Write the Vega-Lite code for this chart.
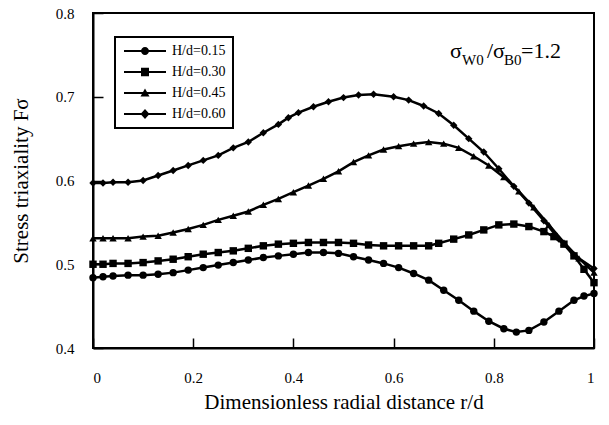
{
  "$schema": "https://vega.github.io/schema/vega-lite/v6.json",
  "width": 501,
  "height": 335,
  "autosize": "none",
  "padding": {"left": 93, "top": 13, "right": 15, "bottom": 77},
  "background": "white",
  "config": {
    "view": {"stroke": "black", "strokeWidth": 2},
    "font": "Liberation Serif",
    "axis": {
      "domainColor": "black", "domainWidth": 2, "tickColor": "black", "tickWidth": 1.5,
      "tickSize": -10, "grid": false,
      "labelFont": "Liberation Serif", "labelFontSize": 15, "labelColor": "black",
      "titleFont": "Liberation Serif", "titleFontWeight": "normal", "titleColor": "black"
    }
  },
  "data": {"values": [
    {"series":"H/d=0.15","r":0,"F":0.484},{"series":"H/d=0.15","r":0.02,"F":0.485},{"series":"H/d=0.15","r":0.04,"F":0.486},{"series":"H/d=0.15","r":0.07,"F":0.487},{"series":"H/d=0.15","r":0.10,"F":0.487},{"series":"H/d=0.15","r":0.13,"F":0.488},{"series":"H/d=0.15","r":0.16,"F":0.490},{"series":"H/d=0.15","r":0.19,"F":0.493},{"series":"H/d=0.15","r":0.22,"F":0.496},{"series":"H/d=0.15","r":0.25,"F":0.499},{"series":"H/d=0.15","r":0.28,"F":0.502},{"series":"H/d=0.15","r":0.31,"F":0.505},{"series":"H/d=0.15","r":0.34,"F":0.508},{"series":"H/d=0.15","r":0.37,"F":0.510},{"series":"H/d=0.15","r":0.40,"F":0.512},{"series":"H/d=0.15","r":0.43,"F":0.514},{"series":"H/d=0.15","r":0.46,"F":0.514},{"series":"H/d=0.15","r":0.49,"F":0.513},{"series":"H/d=0.15","r":0.52,"F":0.509},{"series":"H/d=0.15","r":0.55,"F":0.505},{"series":"H/d=0.15","r":0.58,"F":0.501},{"series":"H/d=0.15","r":0.61,"F":0.496},{"series":"H/d=0.15","r":0.64,"F":0.489},{"series":"H/d=0.15","r":0.67,"F":0.481},{"series":"H/d=0.15","r":0.70,"F":0.469},{"series":"H/d=0.15","r":0.73,"F":0.457},{"series":"H/d=0.15","r":0.76,"F":0.444},{"series":"H/d=0.15","r":0.79,"F":0.432},{"series":"H/d=0.15","r":0.82,"F":0.423},{"series":"H/d=0.15","r":0.845,"F":0.419},{"series":"H/d=0.15","r":0.87,"F":0.421},{"series":"H/d=0.15","r":0.90,"F":0.431},{"series":"H/d=0.15","r":0.93,"F":0.444},{"series":"H/d=0.15","r":0.96,"F":0.457},{"series":"H/d=0.15","r":0.98,"F":0.462},{"series":"H/d=0.15","r":1.0,"F":0.465},
    {"series":"H/d=0.30","r":0,"F":0.500},{"series":"H/d=0.30","r":0.02,"F":0.500},{"series":"H/d=0.30","r":0.04,"F":0.501},{"series":"H/d=0.30","r":0.07,"F":0.501},{"series":"H/d=0.30","r":0.10,"F":0.502},{"series":"H/d=0.30","r":0.13,"F":0.504},{"series":"H/d=0.30","r":0.16,"F":0.506},{"series":"H/d=0.30","r":0.19,"F":0.509},{"series":"H/d=0.30","r":0.22,"F":0.512},{"series":"H/d=0.30","r":0.25,"F":0.514},{"series":"H/d=0.30","r":0.28,"F":0.516},{"series":"H/d=0.30","r":0.31,"F":0.519},{"series":"H/d=0.30","r":0.34,"F":0.522},{"series":"H/d=0.30","r":0.37,"F":0.524},{"series":"H/d=0.30","r":0.40,"F":0.525},{"series":"H/d=0.30","r":0.43,"F":0.526},{"series":"H/d=0.30","r":0.46,"F":0.526},{"series":"H/d=0.30","r":0.49,"F":0.526},{"series":"H/d=0.30","r":0.52,"F":0.525},{"series":"H/d=0.30","r":0.55,"F":0.523},{"series":"H/d=0.30","r":0.58,"F":0.522},{"series":"H/d=0.30","r":0.61,"F":0.522},{"series":"H/d=0.30","r":0.64,"F":0.522},{"series":"H/d=0.30","r":0.67,"F":0.522},{"series":"H/d=0.30","r":0.69,"F":0.525},{"series":"H/d=0.30","r":0.72,"F":0.530},{"series":"H/d=0.30","r":0.75,"F":0.535},{"series":"H/d=0.30","r":0.78,"F":0.541},{"series":"H/d=0.30","r":0.81,"F":0.547},{"series":"H/d=0.30","r":0.84,"F":0.548},{"series":"H/d=0.30","r":0.87,"F":0.545},{"series":"H/d=0.30","r":0.90,"F":0.539},{"series":"H/d=0.30","r":0.92,"F":0.533},{"series":"H/d=0.30","r":0.94,"F":0.524},{"series":"H/d=0.30","r":0.96,"F":0.510},{"series":"H/d=0.30","r":0.98,"F":0.494},{"series":"H/d=0.30","r":1.0,"F":0.478},
    {"series":"H/d=0.45","r":0,"F":0.531},{"series":"H/d=0.45","r":0.02,"F":0.531},{"series":"H/d=0.45","r":0.04,"F":0.531},{"series":"H/d=0.45","r":0.07,"F":0.531},{"series":"H/d=0.45","r":0.10,"F":0.533},{"series":"H/d=0.45","r":0.13,"F":0.534},{"series":"H/d=0.45","r":0.16,"F":0.538},{"series":"H/d=0.45","r":0.19,"F":0.542},{"series":"H/d=0.45","r":0.22,"F":0.547},{"series":"H/d=0.45","r":0.25,"F":0.553},{"series":"H/d=0.45","r":0.28,"F":0.558},{"series":"H/d=0.45","r":0.31,"F":0.563},{"series":"H/d=0.45","r":0.34,"F":0.571},{"series":"H/d=0.45","r":0.37,"F":0.578},{"series":"H/d=0.45","r":0.40,"F":0.586},{"series":"H/d=0.45","r":0.43,"F":0.594},{"series":"H/d=0.45","r":0.46,"F":0.602},{"series":"H/d=0.45","r":0.49,"F":0.611},{"series":"H/d=0.45","r":0.52,"F":0.622},{"series":"H/d=0.45","r":0.55,"F":0.630},{"series":"H/d=0.45","r":0.58,"F":0.637},{"series":"H/d=0.45","r":0.61,"F":0.641},{"series":"H/d=0.45","r":0.64,"F":0.644},{"series":"H/d=0.45","r":0.67,"F":0.646},{"series":"H/d=0.45","r":0.70,"F":0.644},{"series":"H/d=0.45","r":0.73,"F":0.639},{"series":"H/d=0.45","r":0.76,"F":0.629},{"series":"H/d=0.45","r":0.79,"F":0.618},{"series":"H/d=0.45","r":0.82,"F":0.604},{"series":"H/d=0.45","r":0.85,"F":0.587},{"series":"H/d=0.45","r":0.88,"F":0.568},{"series":"H/d=0.45","r":0.91,"F":0.547},{"series":"H/d=0.45","r":0.94,"F":0.526},{"series":"H/d=0.45","r":0.97,"F":0.507},{"series":"H/d=0.45","r":1.0,"F":0.490},
    {"series":"H/d=0.60","r":0,"F":0.597},{"series":"H/d=0.60","r":0.02,"F":0.597},{"series":"H/d=0.60","r":0.04,"F":0.598},{"series":"H/d=0.60","r":0.07,"F":0.598},{"series":"H/d=0.60","r":0.10,"F":0.600},{"series":"H/d=0.60","r":0.13,"F":0.606},{"series":"H/d=0.60","r":0.16,"F":0.612},{"series":"H/d=0.60","r":0.19,"F":0.618},{"series":"H/d=0.60","r":0.22,"F":0.624},{"series":"H/d=0.60","r":0.25,"F":0.630},{"series":"H/d=0.60","r":0.28,"F":0.639},{"series":"H/d=0.60","r":0.31,"F":0.646},{"series":"H/d=0.60","r":0.34,"F":0.657},{"series":"H/d=0.60","r":0.37,"F":0.667},{"series":"H/d=0.60","r":0.39,"F":0.675},{"series":"H/d=0.60","r":0.41,"F":0.681},{"series":"H/d=0.60","r":0.44,"F":0.688},{"series":"H/d=0.60","r":0.47,"F":0.694},{"series":"H/d=0.60","r":0.50,"F":0.699},{"series":"H/d=0.60","r":0.53,"F":0.702},{"series":"H/d=0.60","r":0.56,"F":0.703},{"series":"H/d=0.60","r":0.60,"F":0.700},{"series":"H/d=0.60","r":0.63,"F":0.696},{"series":"H/d=0.60","r":0.66,"F":0.689},{"series":"H/d=0.60","r":0.69,"F":0.680},{"series":"H/d=0.60","r":0.72,"F":0.666},{"series":"H/d=0.60","r":0.75,"F":0.650},{"series":"H/d=0.60","r":0.78,"F":0.634},{"series":"H/d=0.60","r":0.81,"F":0.614},{"series":"H/d=0.60","r":0.84,"F":0.593},{"series":"H/d=0.60","r":0.87,"F":0.573},{"series":"H/d=0.60","r":0.90,"F":0.552},{"series":"H/d=0.60","r":0.93,"F":0.530},{"series":"H/d=0.60","r":0.96,"F":0.511},{"series":"H/d=0.60","r":1.0,"F":0.495}
  ]},
  "layer": [
    {
      "mark": {"type": "line", "strokeWidth": 2.5},
      "encoding": {
        "x": {"field": "r", "type": "quantitative", "scale": {"domain": [0, 1], "nice": false},
          "axis": {"values": [0, 0.2, 0.4, 0.6, 0.8, 1], "labelExpr": "datum.value == 0 ? '0' : datum.value == 1 ? '1' : format(datum.value, '.1f')",
            "title": "Dimensionless radial distance r/d", "titleFontSize": 21, "labelPadding": 32, "titlePadding": 6}},
        "y": {"field": "F", "type": "quantitative", "scale": {"domain": [0.4, 0.8], "nice": false},
          "axis": {"values": [0.4, 0.5, 0.6, 0.7, 0.8], "format": ".1f", "title": "Stress triaxiality Fσ", "titleFontSize": 21, "labelPadding": 29, "titlePadding": 24}},
        "color": {"field": "series", "type": "nominal",
          "scale": {"domain": ["H/d=0.15", "H/d=0.30", "H/d=0.45", "H/d=0.60"], "range": ["black", "black", "black", "black"]},
          "legend": {
            "title": null, "orient": "none", "legendX": 22, "legendY": 24,
            "symbolSize": 100, "labelOffset": 36, "labelFont": "Liberation Serif", "labelFontSize": 14, "labelColor": "black",
            "rowPadding": 7, "padding": 7, "strokeColor": "black", "fillColor": "white",
            "encoding": {
              "symbols": {
                "shape": {
                  "condition": [
                    {"test": "datum.value == 'H/d=0.15'", "value": "M-1,-0.2H7.4V0.2H-1Z M4,0A0.8,0.8 0 1 1 2.4,0A0.8,0.8 0 1 1 4,0Z"},
                    {"test": "datum.value == 'H/d=0.30'", "value": "M-1,-0.2H7.4V0.2H-1Z M2.4,-0.85H4V0.85H2.4Z"},
                    {"test": "datum.value == 'H/d=0.45'", "value": "M-1,-0.2H7.4V0.2H-1Z M3.2,-0.9L4.1,0.7L2.3,0.7Z"}
                  ],
                  "value": "M-1,-0.2H7.4V0.2H-1Z M3.2,-1L4.1,0L3.2,1L2.3,0Z"
                },
                "fill": {"value": "black"}, "strokeWidth": {"value": 0}, "opacity": {"value": 1}
              },
              "legend": {"stroke": {"value": "black"}, "strokeWidth": {"value": 2}}
            }
          }
        }
      }
    },
    {
      "mark": {"type": "point", "filled": true, "color": "black", "size": 55, "opacity": 1},
      "encoding": {
        "x": {"field": "r", "type": "quantitative"},
        "y": {"field": "F", "type": "quantitative"},
        "shape": {"field": "series", "type": "nominal", "legend": null,
          "scale": {"range": ["circle", "square", "triangle-up", "diamond"]}}
      }
    },
    {
      "data": {"values": [{"t": "σ"}]},
      "mark": {"type": "text", "align": "left", "baseline": "alphabetic", "fontSize": 22, "font": "Liberation Serif", "color": "black"},
      "encoding": {"x": {"datum": 0.7126}, "y": {"datum": 0.7463}, "text": {"field": "t"}}
    },
    {
      "data": {"values": [{"t": "W0"}]},
      "mark": {"type": "text", "align": "left", "baseline": "alphabetic", "fontSize": 15, "font": "Liberation Serif", "color": "black", "dx": 12, "dy": 7},
      "encoding": {"x": {"datum": 0.7126}, "y": {"datum": 0.7463}, "text": {"field": "t"}}
    },
    {
      "data": {"values": [{"t": "/σ"}]},
      "mark": {"type": "text", "align": "left", "baseline": "alphabetic", "fontSize": 22, "font": "Liberation Serif", "color": "black", "dx": 37},
      "encoding": {"x": {"datum": 0.7126}, "y": {"datum": 0.7463}, "text": {"field": "t"}}
    },
    {
      "data": {"values": [{"t": "B0"}]},
      "mark": {"type": "text", "align": "left", "baseline": "alphabetic", "fontSize": 15, "font": "Liberation Serif", "color": "black", "dx": 54, "dy": 7},
      "encoding": {"x": {"datum": 0.7126}, "y": {"datum": 0.7463}, "text": {"field": "t"}}
    },
    {
      "data": {"values": [{"t": "=1.2"}]},
      "mark": {"type": "text", "align": "left", "baseline": "alphabetic", "fontSize": 22, "font": "Liberation Serif", "color": "black", "dx": 71},
      "encoding": {"x": {"datum": 0.7126}, "y": {"datum": 0.7463}, "text": {"field": "t"}}
    }
  ]
}
